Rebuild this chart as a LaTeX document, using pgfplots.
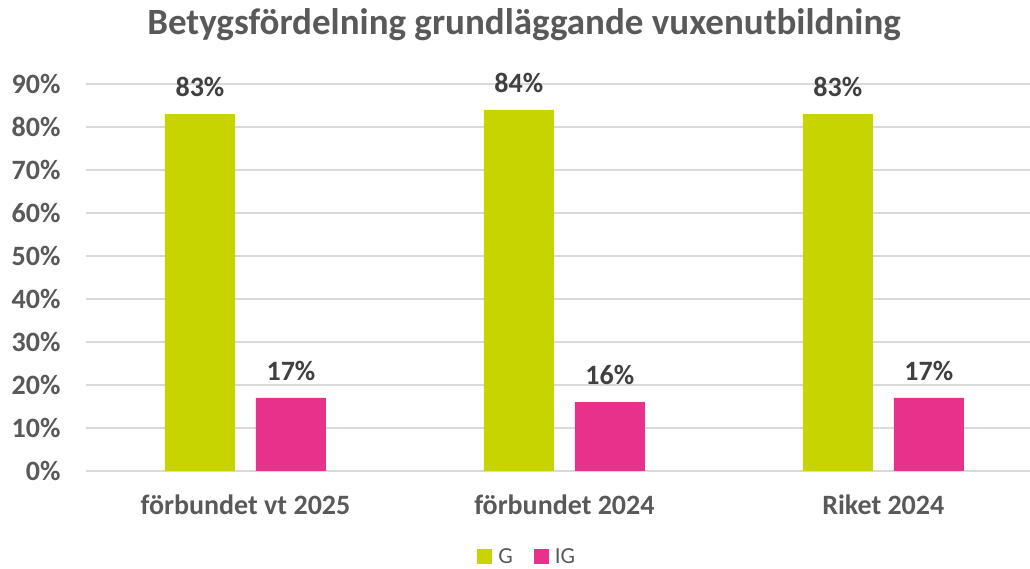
\documentclass[border=0pt]{standalone}
\usepackage{fontspec}
\setmainfont{Carlito}
\usepackage{pgfplots}
\pgfplotsset{compat=1.18}
\definecolor{gcol}{HTML}{C8D400}
\definecolor{igcol}{HTML}{E8318A}
\definecolor{txt}{HTML}{595959}
\definecolor{lbl}{HTML}{404040}
\definecolor{gridc}{HTML}{D9D9D9}
\begin{document}
\begin{tikzpicture}[x=1pt,y=1pt]
\useasboundingbox (0,0) rectangle (1030,569);
\begin{axis}[
  at={(86pt,98pt)}, anchor=south west,
  scale only axis, width=944pt, height=387pt,
  xmin=-0.5, xmax=2.46, ymin=0, ymax=90,
  /pgf/number format/assume math mode=true,
  ytick={0,10,...,90},
  yticklabel={\pgfmathprintnumber{\tick}\%},
  xtick={0,1,2},
  xticklabels={förbundet vt 2025, förbundet 2024, Riket 2024},
  ymajorgrids, grid style={draw=gridc, line width=1.3pt},
  axis line style={draw=none}, major tick style={draw=none},
  tick label style={font=\fontsize{28}{32}\selectfont\bfseries, text=txt},
  yticklabel style={xshift=-22pt},
  xticklabel style={yshift=-20pt},
  clip=false,
  nodes near coords={\pgfmathprintnumber{\pgfplotspointmeta}\%},
  nodes near coords style={font=\fontsize{28}{32}\selectfont\bfseries, text=lbl, anchor=south, yshift=14pt},
  legend style={at={(0.467,-0.222)}, anchor=center, draw=none, fill=none,
    inner sep=0pt, nodes={inner sep=1pt},
    legend columns=2, font=\fontsize{23}{26}\selectfont, text=txt,
    /tikz/every odd column/.append style={column sep=5pt},
    /tikz/every even column/.append style={column sep=20pt}},
  legend image code/.code={\fill[#1] (0pt,-7.5pt) rectangle (15pt,7.5pt);},
]
\addplot[ybar, bar width=70pt, bar shift=-45.5pt, fill=gcol, draw=none,
  every node near coord/.append style={xshift=-45.5pt}] coordinates {(0,83) (1,84) (2,83)};
\addplot[ybar, bar width=70pt, bar shift=45.5pt, fill=igcol, draw=none,
  every node near coord/.append style={xshift=45.5pt}] coordinates {(0,17) (1,16) (2,17)};
\legend{G, IG}
\end{axis}
\node[font=\fontsize{37}{42}\selectfont\bfseries, text=txt] at (524,544) {Betygsfördelning grundläggande vuxenutbildning};
\end{tikzpicture}
\end{document}
